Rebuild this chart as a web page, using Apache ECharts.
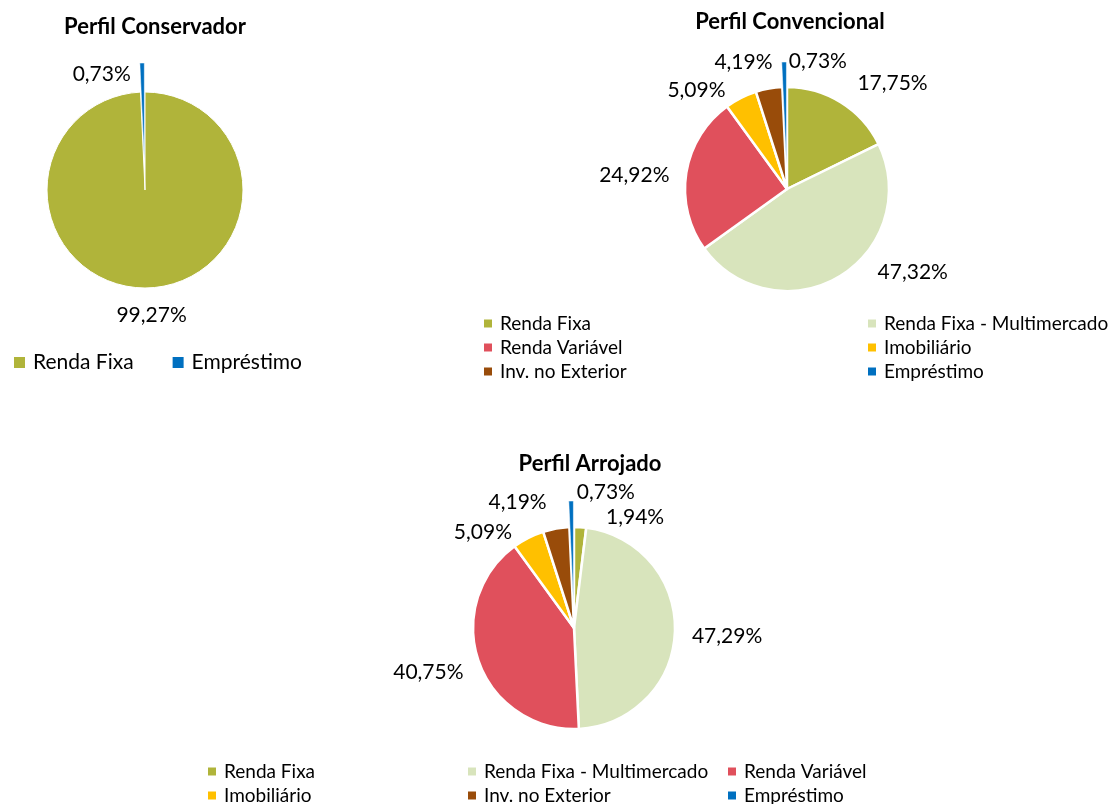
<!DOCTYPE html>
<html><head><meta charset="utf-8">
<script src="https://cdn.jsdelivr.net/npm/echarts@6/dist/echarts.min.js"></script>
<style>html,body{margin:0;padding:0;background:#fff}#c{width:1112px;height:804px}</style>
</head><body><div id="c"></div>
<script>
const categories = ['Renda Fixa','Renda Fixa - Multimercado','Renda Variável','Imobiliário','Inv. no Exterior','Empréstimo'];
const colors = ['#B0B43A','#D8E4BC','#E0505C','#FFC000','#994C0A','#0070C0'];
const conservadorNames = ['Renda Fixa','Empréstimo'];
const conservadorValues = [99.27, 0.73];
const convencionalValues = [17.75, 47.32, 24.92, 5.09, 4.19, 0.73];
const arrojadoValues = [1.94, 47.29, 40.75, 5.09, 4.19, 0.73];

const FONT = 'Lato';
const colorOf = n => colors[categories.indexOf(n)];
const fmt = p => p.value.toFixed(2).replace('.', ',') + '%';

// label nudges (style only) to mimic the spreadsheet's label placement
const labelNudge = [
  {'Empréstimo':{dx:-6, dy:25}, 'Renda Fixa':{align:'center', dx:-1, dy:13}},
  {'Renda Fixa':{dx:4, dy:-7}, 'Renda Fixa - Multimercado':{dx:26, dy:-16}, 'Renda Variável':{dx:2, dy:5}, 'Imobiliário':{dx:-4, dy:5}, 'Inv. no Exterior':{dx:11, dy:-13}, 'Empréstimo':{align:'left', dx:10, dy:13}},
  {'Renda Fixa':{dx:20, dy:4}, 'Renda Fixa - Multimercado':{dx:-2, dy:4}, 'Renda Variável':{dx:3, dy:6}, 'Imobiliário':{dx:-5, dy:7}, 'Inv. no Exterior':{dx:-2, dy:-13}, 'Empréstimo':{align:'left', dx:11, dy:5}}
];

function items(names, vals){
  return names.map((n,i)=>{
    const it = {name:n, value:vals[i], selected: n==='Empréstimo', itemStyle:{color:colorOf(n)}};
    if (n==='Empréstimo') it.itemStyle.borderWidth = 0.5;
    return it;
  });
}
function pie(idx, names, center, r, data, offset, bw){
  return {
    type:'pie', center:center, radius:r, startAngle:90, clockwise:true,
    selectedMode:'multiple', selectedOffset:offset, animation:false,
    avoidLabelOverlap:false,
    itemStyle:{borderColor:'#fff', borderWidth:bw},
    label:{show:true, position:'outside', formatter:fmt, fontFamily:FONT, fontSize:21, color:'#000'},
    labelLine:{show:false, length:14, length2:0},
    labelLayout: function(p){ return labelNudge[idx][names[p.dataIndex]] || {}; },
    emphasis:{disabled:true},
    data:data
  };
}
const legendBase = {icon:'rect', itemWidth:10, itemHeight:10, itemGap:5, orient:'vertical', selectedMode:false, height:80, padding:0,
  textStyle:{fontFamily:FONT, fontSize:19, color:'#000', lineHeight:19, padding:[0,0,0,2]}};

const chart = echarts.init(document.getElementById('c'), null, {renderer:'canvas'});
const titleStyle = {fontFamily:FONT, fontWeight:'bold', fontSize:22, color:'#000'};
chart.setOption({
  color: colors,
  animation:false,
  title:[
    {text:'Perfil Conservador', left:155, top:16, padding:0, textAlign:'center', textStyle:titleStyle},
    {text:'Perfil Convencional', left:790, top:11, padding:0, textAlign:'center', textStyle:titleStyle},
    {text:'Perfil Arrojado', left:590, top:453, padding:0, textAlign:'center', textStyle:titleStyle}
  ],
  legend:[
    {icon:'rect', itemWidth:13, itemHeight:13, itemGap:37, orient:'horizontal', left:12, top:352, padding:0, selectedMode:false,
     textStyle:{fontFamily:FONT, fontSize:21, color:'#000', padding:[0,0,0,2]}, data:conservadorNames},
    Object.assign({}, legendBase, {left:482, top:314, data:[categories[0],categories[2],categories[4]]}),
    Object.assign({}, legendBase, {left:866, top:314, data:[categories[1],categories[3],categories[5]]}),
    Object.assign({}, legendBase, {left:206, top:762, data:[categories[0],categories[3]]}),
    Object.assign({}, legendBase, {left:466, top:762, data:[categories[1],categories[4]]}),
    Object.assign({}, legendBase, {left:726, top:762, data:[categories[2],categories[5]]})
  ],
  series:[
    pie(0, conservadorNames, [145,190], 98, items(conservadorNames, conservadorValues), 29, 1),
    pie(1, categories, [787,189], 102, items(categories, convencionalValues), 25, 2.5),
    pie(2, categories, [574,628], 101, items(categories, arrojadoValues), 26, 2.5)
  ]
});
</script></body></html>
